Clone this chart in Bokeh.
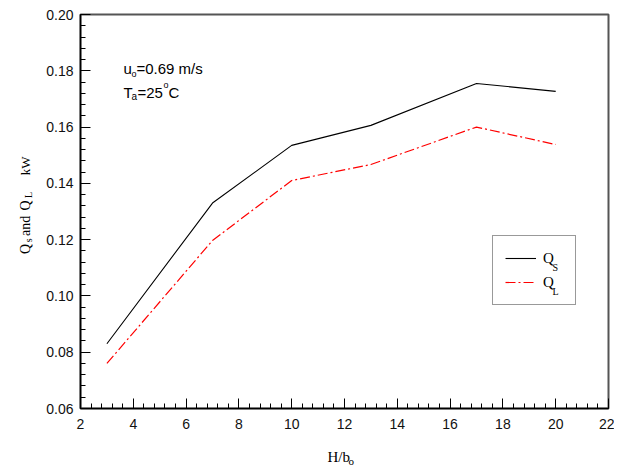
import math
from bokeh.plotting import figure
from bokeh.models import (FixedTicker, NumeralTickFormatter, Label, Legend, LegendItem, Range1d)
from bokeh.layouts import row, column
from bokeh.embed import file_html
from bokeh.resources import INLINE

# ---- data ----
h_over_b = [3, 7, 10, 13, 17, 20]
q_s = [0.083, 0.133, 0.1535, 0.1606, 0.1755, 0.1727]
q_l = [0.076, 0.1197, 0.141, 0.1467, 0.160, 0.1538]
x_ticks = [2, 4, 6, 8, 10, 12, 14, 16, 18, 20, 22]
y_ticks = [0.06, 0.08, 0.10, 0.12, 0.14, 0.16, 0.18, 0.20]

X0, X1 = 2, 22
Y0, Y1 = 0.06, 0.20

YLW = 40                 # width of the y-label strip
ML, FT, FW, FH = 40, 14, 528, 394   # main figure: left border, top border, frame size
RB, BB = 6, 28
FL = YLW + ML            # frame left in page px (80)
MAIN_H = FT + FH + BB    # 436
XLH = 31                 # height of the x-label strip
TOTAL_W = FL + FW + RB   # 614

SERIF = "Liberation Serif"
SANS = "Liberation Sans"

# ---------------- main chart ----------------
p = figure(width=ML + FW + RB, height=MAIN_H, output_backend="svg", toolbar_location=None,
           x_range=Range1d(X0, X1), y_range=Range1d(Y0, Y1),
           min_border_left=ML, min_border_right=RB, min_border_top=FT, min_border_bottom=BB,
           frame_width=FW, frame_height=FH)
p.background_fill_color = "white"
p.border_fill_color = "white"
p.outline_line_color = "#555555"
p.outline_line_width = 2
p.xgrid.visible = False
p.ygrid.visible = False

minor_x = [round(2 + 0.4 * i, 2) for i in range(51)]
minor_y = [round(0.06 + 0.004 * i, 4) for i in range(36)]
p.xaxis.ticker = FixedTicker(ticks=x_ticks, minor_ticks=minor_x)
p.yaxis.ticker = FixedTicker(ticks=y_ticks, minor_ticks=minor_y)
p.yaxis.formatter = NumeralTickFormatter(format="0.00")
for ax in (p.xaxis[0], p.yaxis[0]):
    ax.major_tick_in = 10
    ax.major_tick_out = 0
    ax.minor_tick_in = 5
    ax.minor_tick_out = 0
    ax.axis_line_color = "black"
    ax.axis_line_width = 1.5
    ax.major_tick_line_color = "black"
    ax.minor_tick_line_color = "black"
    ax.major_label_text_font = SANS
    ax.major_label_text_font_size = "14px"
    ax.major_label_text_color = "#111111"
    ax.axis_label = None
p.xaxis.major_label_standoff = 10
p.yaxis.major_label_standoff = 7

r_s = p.line(h_over_b, q_s, line_color="black", line_width=1.1)
r_l = p.line(h_over_b, q_l, line_color="red", line_width=1.2, line_dash="10 3 2 3")

legend = Legend(items=[LegendItem(label="Q", renderers=[r_s]),
                       LegendItem(label="Q", renderers=[r_l])],
                location=(412, 103), orientation="vertical")
legend.label_text_font = SERIF
legend.label_text_font_size = "15px"
legend.label_text_color = "black"
legend.glyph_width = 31
legend.glyph_height = 20
legend.label_height = 20
legend.label_width = 20
legend.label_standoff = 7
legend.spacing = 4
legend.padding = 12
legend.margin = 0
legend.border_line_color = "#333333"
legend.border_line_width = 1.5
legend.background_fill_alpha = 0
p.add_layout(legend)


def lab_main(text, px, py, size="15px", font=SANS):
    # px, py: page pixels; converted to frame-relative screen units
    p.add_layout(Label(x=px - FL, y=(FT + FH) - py, x_units="screen", y_units="screen",
                       text=text, text_font=font, text_font_size=size,
                       text_color="black", text_baseline="alphabetic", text_align="left"))


# legend subscripts
lab_main("S", 552, 267, "10px", SERIF)
lab_main("L", 552, 291, "10px", SERIF)

# annotation text
lab_main("u", 123, 68)
lab_main("o", 131, 73, "9px")
lab_main("=0.69 m/s", 136, 68)
lab_main("T", 123, 92)
lab_main("a", 131, 96, "10px")
lab_main("=25", 137, 92)
lab_main("o", 163, 84, "9px")
lab_main("C", 168, 92)


def strip(w, h):
    f = figure(width=w, height=h, output_backend="svg", toolbar_location=None,
               x_range=Range1d(0, w), y_range=Range1d(0, h), min_border=0)
    f.axis.visible = False
    f.grid.visible = False
    f.outline_line_color = None
    f.background_fill_color = "white"
    f.border_fill_color = "white"
    return f


# ---------------- y-axis label strip ----------------
yl = strip(YLW, MAIN_H)
A = math.pi / 2


def lab_y(text, px, py, size):
    yl.add_layout(Label(x=px, y=MAIN_H - py, text=text, text_font=SERIF, text_font_size=size,
                        text_color="black", text_baseline="alphabetic", text_align="left",
                        angle=A))


lab_y("Q", 25, 265, "14px")
lab_y("s", 28, 252, "10px")
lab_y("and", 25, 245, "14px")
lab_y("Q", 25, 217, "14px")
lab_y("L", 28, 203, "10px")
lab_y("kW", 25, 178, "13px")

# ---------------- x-axis label strip ----------------
xl = strip(TOTAL_W, XLH)


def lab_x(text, px, py, size):
    xl.add_layout(Label(x=px, y=(MAIN_H + XLH) - py, text=text, text_font=SERIF,
                        text_font_size=size, text_color="black",
                        text_baseline="alphabetic", text_align="left"))


lab_x("H/b", 327, 456, "15px")
lab_x("o", 348, 460, "11px")

layout = column(row(yl, p, spacing=0), xl, spacing=0)
open("out.html", "w").write(file_html(layout, INLINE))
